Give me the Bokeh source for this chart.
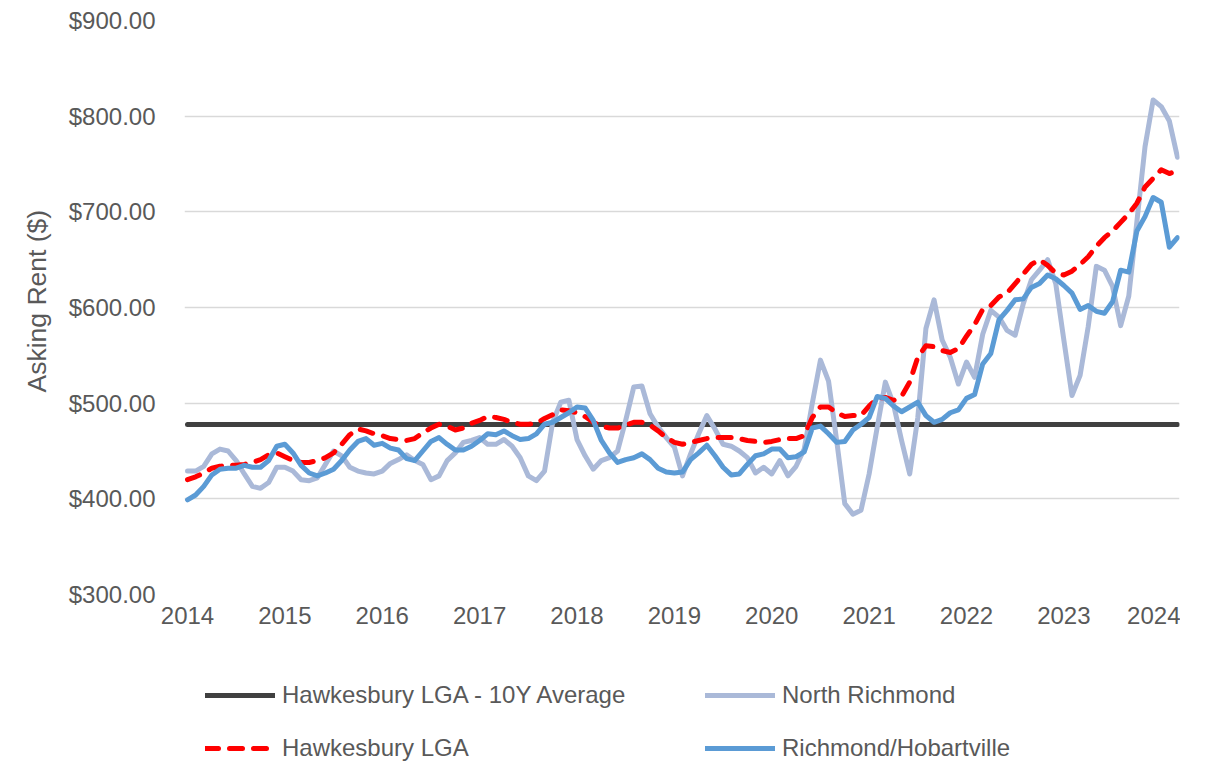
from bokeh.plotting import figure
from bokeh.layouts import column
from bokeh.models import Range1d, FixedTicker, NumeralTickFormatter, Legend, LegendItem, Title
from bokeh.embed import file_html
from bokeh.resources import INLINE

# ---- data (monthly, Jan 2014 .. Mar 2024) ----
months = list(range(123))
year_ticks = [0, 12, 24, 36, 48, 60, 72, 84, 96, 108, 120]
year_labels = ["2014", "2015", "2016", "2017", "2018", "2019", "2020", "2021", "2022", "2023", "2024"]
y_ticks = [300, 400, 500, 600, 700, 800, 900]

avg_10y = 477.6

north_richmond = [
    429, 429, 434, 447, 452, 450, 440, 426, 413, 411,
    417, 433, 433, 429, 420, 419, 422, 436, 450, 445,
    433, 429, 427, 426, 429, 437, 441, 446, 440, 436,
    420, 424, 440, 448, 459, 461, 464, 457, 457, 462,
    455, 443, 424, 419, 429, 480, 501, 503, 462, 445,
    431, 440, 443, 450, 482, 517, 518, 489, 475, 464,
    454, 424, 447, 468, 487, 473, 457, 455, 450, 443,
    427, 433, 426, 440, 424, 434, 452, 500, 545, 523,
    461, 395, 384, 388, 426, 475, 522, 499, 461, 426,
    485, 578, 608, 566, 548, 520, 543, 527, 572, 597,
    590, 576, 571, 604, 629, 639, 650, 625, 566, 508,
    529, 580, 643, 639, 622, 581, 612, 690, 768, 817,
    810, 795, 757]

hawkesbury_lga = [
    420, 423, 427, 432, 434, 435, 435, 436, 438, 441,
    446, 448, 444, 440, 438, 438, 440, 443, 448, 457,
    467, 473, 471, 468, 466, 463, 462, 461, 463, 469,
    474, 478, 476, 472, 474, 479, 482, 486, 485, 483,
    480, 478, 478, 479, 484, 488, 493, 492, 490, 486,
    480, 476, 474, 474, 477, 480, 480, 477, 471, 464,
    459, 457, 459, 461, 463, 464, 464, 464, 463, 461,
    460, 459, 460, 462, 463, 463, 466, 485, 496, 496,
    490, 486, 487, 487, 497, 505, 506, 503, 507, 522,
    548, 560, 559, 555, 553, 557, 570, 582, 598, 602,
    611, 615, 625, 635, 645, 650, 644, 636, 634, 638,
    645, 653, 664, 673, 680, 689, 698, 709, 726, 735,
    744, 740, 743]

richmond_hobartville = [
    399, 404, 413, 425, 431, 432, 432, 435, 433, 433,
    440, 455, 457, 448, 435, 427, 424, 427, 431, 440,
    451, 460, 463, 456, 458, 453, 451, 442, 440, 450,
    460, 464, 457, 451, 451, 455, 461, 468, 467, 471,
    466, 462, 463, 468, 478, 480, 485, 490, 496, 495,
    482, 461, 448, 438, 441, 443, 447, 441, 432, 428,
    427, 428, 441, 448, 456, 445, 433, 425, 426, 436,
    445, 447, 452, 452, 443, 444, 449, 474, 476, 468,
    459, 460, 472, 478, 485, 507, 505, 497, 491, 496,
    501, 487, 480, 483, 490, 493, 505, 509, 541, 552,
    587, 597, 608, 609, 621, 625, 634, 630, 623, 615,
    598, 602, 596, 594, 606, 639, 637, 680, 695, 715,
    710, 663, 673]

series_names = ["Hawkesbury LGA - 10Y Average", "North Richmond", "Hawkesbury LGA", "Richmond/Hobartville"]

avg_series = [avg_10y] * len(months)

FONT = "Liberation Sans"
TXT = "#595959"
FS = "24px"
W = 5
STYLES = [
    dict(line_color="#404040", line_width=W, line_cap="round", line_join="round"),
    dict(line_color="#AAB9D8", line_width=W, line_cap="round", line_join="round"),
    dict(line_color="#FF0000", line_width=W, line_dash="13 11", line_cap="round", line_join="round"),
    dict(line_color="#5B9BD5", line_width=W, line_cap="round", line_join="round"),
]

p = figure(width=1180, height=650, output_backend="svg", toolbar_location=None,
           x_range=Range1d(-0.37, 122.25), y_range=Range1d(300, 900),
           min_border_left=184, min_border_right=1, min_border_top=20, min_border_bottom=56)
p.outline_line_color = None
p.background_fill_color = "white"
p.border_fill_color = "white"

p.xgrid.visible = False
p.ygrid.grid_line_color = "#D9D9D9"
p.ygrid.grid_line_width = 1.5

p.xaxis.ticker = FixedTicker(ticks=year_ticks)
p.xaxis.major_label_overrides = {t: l for t, l in zip(year_ticks, year_labels)}
p.yaxis.ticker = FixedTicker(ticks=y_ticks)
p.yaxis.formatter = NumeralTickFormatter(format="$0.00")

for ax in (p.xaxis, p.yaxis):
    ax.axis_line_color = None
    ax.major_tick_line_color = None
    ax.minor_tick_line_color = None
    ax.major_tick_out = 0
    ax.major_tick_in = 0
    ax.major_label_text_font = FONT
    ax.major_label_text_font_size = FS
    ax.major_label_text_color = TXT
p.xaxis.major_label_standoff = 12
p.yaxis.major_label_standoff = 29

ytitle = Title(text="Asking Rent ($)", align="left", offset=202, standoff=28,
               text_font=FONT, text_font_size="26.5px", text_font_style="normal",
               text_color=TXT)
p.add_layout(ytitle, "left")

all_series = [avg_series, north_richmond, hawkesbury_lga, richmond_hobartville]
for ys, st in zip(all_series, STYLES):
    p.line(months, ys, **st)

# ---- legend strip below the chart ----
lg = figure(width=1180, height=114, output_backend="svg", toolbar_location=None,
            x_axis_type=None, y_axis_type=None,
            x_range=Range1d(0, 1), y_range=Range1d(0, 1),
            min_border_left=0, min_border_right=0, min_border_top=0, min_border_bottom=0)
lg.outline_line_color = None
lg.xgrid.visible = False
lg.ygrid.visible = False
nan = float("nan")
items = []
for name, st in zip(series_names, STYLES):
    r = lg.line([nan], [nan], **st)
    items.append(LegendItem(label=name, renderers=[r]))

legend = Legend(items=items, location=(21, 1), orientation="horizontal", ncols=2)
legend.glyph_width = 70
legend.glyph_height = 30
legend.label_standoff = 7
legend.label_width = 400
legend.spacing = 23
legend.padding = 0
legend.margin = 0
legend.border_line_color = None
legend.background_fill_alpha = 0
legend.label_text_font = FONT
legend.label_text_font_size = FS
legend.label_text_color = TXT
lg.add_layout(legend)

layout = column(p, lg, spacing=0)
open("out.html", "w").write(file_html(layout, INLINE))
